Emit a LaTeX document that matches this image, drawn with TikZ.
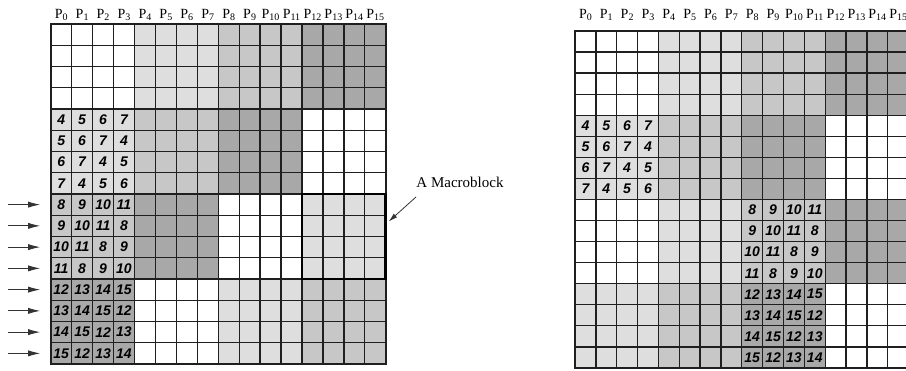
\documentclass[tikz,border=0pt]{standalone}
\usepackage{fontspec}
\setmainfont{Liberation Serif}
\newfontfamily\cellfont{Liberation Sans}
\usetikzlibrary{arrows.meta,calc}

% grey levels of the four processor groups
\definecolor{lev0}{gray}{1.00}
\definecolor{lev1}{gray}{0.87}
\definecolor{lev2}{gray}{0.78}
\definecolor{lev3}{gray}{0.66}
\definecolor{gridline}{gray}{0.12}

% subscript of a column label
\newcommand\psub[1]{\raisebox{-1.6pt}{\fontsize{10}{10}\selectfont #1}}

\tikzset{
  cellnum/.style={font=\cellfont\bfseries\itshape\fontsize{14}{14}\selectfont, inner sep=0pt},
  collabel/.style={font=\fontsize{14}{14}\selectfont, inner sep=0pt, anchor=base},
  gridrule/.style={draw=gridline, line width=1.3pt},
  gridframe/.style={draw=gridline, line width=1.7pt},
  rowarrow/.style={draw=black!80, line width=0.8pt, -{Latex[length=12pt,width=6pt]}},
  macrobox/.style={draw=black, line width=2.8pt, inner sep=0pt},
  pointer/.style={draw=black!80, line width=0.8pt, -{Latex[length=9pt,width=5pt]}},
}

\begin{document}
\begin{tikzpicture}[x=1pt, y=-1pt]
\clip (0,0) rectangle (906,371);
\fill[white] (0,0) rectangle (906,371);

% ---------------- left frame ----------------
\begin{scope}[shift={(50.7,24)}, x=20.94pt, y=-21.25pt]
  \foreach \br in {0,...,3} \foreach \bc in {0,...,3} {
    \pgfmathtruncatemacro\lev{mod(\br+\bc,4)}
    \fill[fill=lev\lev] (4*\bc,4*\br) rectangle ++(4,4);
  }
  \foreach \k in {0,...,16} {
    \draw[gridrule] (\k,0) -- (\k,16);
    \draw[gridrule] (0,\k) -- (16,\k);
  }
  \draw[gridframe] (0,0) rectangle (16,16);
  \foreach \br/\bc in {1/0,2/0,3/0} {
    \foreach \i in {0,...,3} \foreach \j in {0,...,3} {
      \pgfmathtruncatemacro\num{4*\br+mod(\i+\j,4)}
      \pgfmathtruncatemacro\rr{4*\br+\i}
      \pgfmathtruncatemacro\cc{4*\bc+\j}
      \node[cellnum] (L-\rr-\cc) at (\cc+0.5,\rr+0.5) {\num};
    }
  }
  \foreach \k in {0,...,15}
    \node[collabel, yshift=5pt] (LP\k) at (\k+0.5,0) {P\psub{\k}};
  % rows scanned in order
  \foreach \r in {8,...,15} {
    \coordinate (tail\r) at (-2.04,\r+0.5);
    \coordinate (tip\r) at (-0.5,\r+0.5);
    \draw[rowarrow] (tail\r) -- (tip\r);
  }
  \node[macrobox, minimum width=83.76pt, minimum height=85pt] (mb) at (14,10) {};
\end{scope}

\node[font=\fontsize{15}{15}\selectfont, inner sep=0pt] (mblabel) at (460,182) {A Macroblock};
\coordinate (mbfrom) at (416,197);
\draw[pointer] (mbfrom) -- ($(mb.north east)!0.33!(mb.south east)+(1.5,0)$);

% ---------------- right frame ----------------
\begin{scope}[shift={(575,31)}, x=20.85pt, y=-21.06pt]
  \foreach \br in {0,...,3} \foreach \bc in {0,...,3} {
    \pgfmathtruncatemacro\lev{mod(\bc+mod(\br,2),4)}
    \fill[fill=lev\lev] (4*\bc,4*\br) rectangle ++(4,4);
  }
  \foreach \k in {0,...,16} {
    \draw[gridrule] (\k,0) -- (\k,16);
    \draw[gridrule] (0,\k) -- (16,\k);
  }
  \draw[gridframe] (0,0) rectangle (16,16);
  \foreach \br/\bc in {1/0,2/2,3/2} {
    \foreach \i in {0,...,3} \foreach \j in {0,...,3} {
      \pgfmathtruncatemacro\num{4*\br+mod(\i+\j,4)}
      \pgfmathtruncatemacro\rr{4*\br+\i}
      \pgfmathtruncatemacro\cc{4*\bc+\j}
      \node[cellnum] (R-\rr-\cc) at (\cc+0.5,\rr+0.5) {\num};
    }
  }
  \foreach \k in {0,...,15}
    \node[collabel, yshift=12pt] (RP\k) at (\k+0.5,0) {P\psub{\k}};
\end{scope}
\end{tikzpicture}
\end{document}
